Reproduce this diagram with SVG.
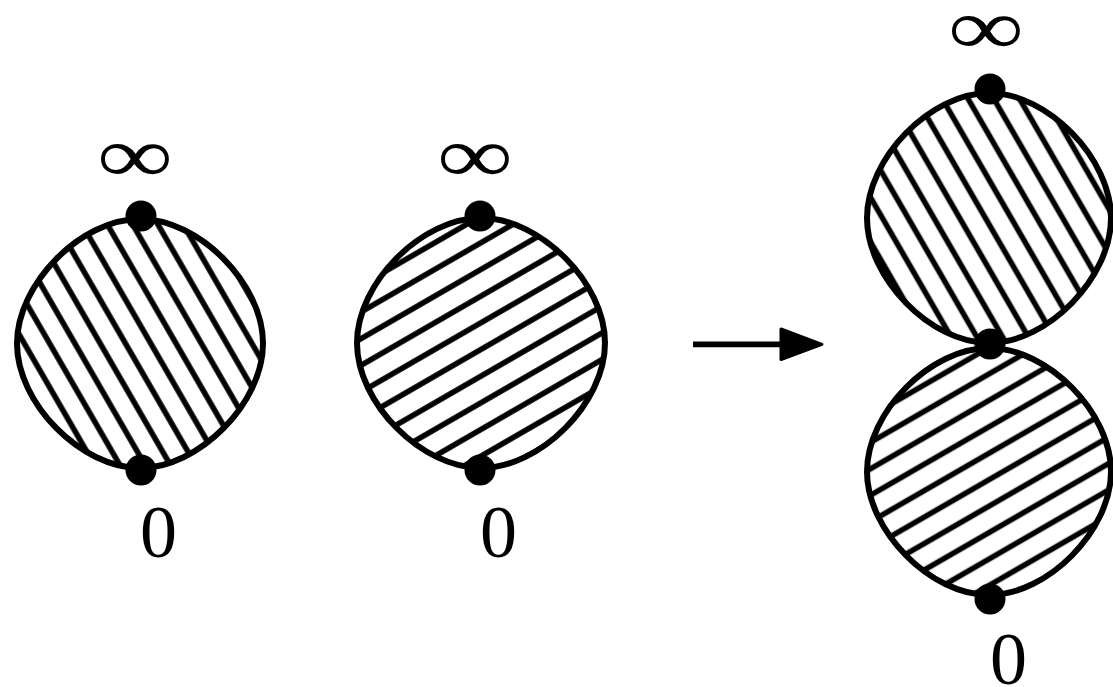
<svg xmlns="http://www.w3.org/2000/svg" width="1113" height="687" viewBox="0 0 1113 687">
  <style>
    .outline { fill: none; stroke: #000; stroke-width: 6; }
    .dot { fill: #000; }
    .lbl { font-family: "Liberation Serif", "DejaVu Serif", serif; fill: #000; text-anchor: middle; }
    .inf { font-size: 79px; }
    .zero { font-size: 74px; }
  </style>
  <defs>
    <path id="p-left" d="M140,219 C199,219 263,283.7 263,343.5 C263,403.3 199,468 140,468 C81,468 17,403.3 17,343.5 C17,283.7 81,219 140,219 Z"/>
    <path id="p-mid" d="M481,218 C540.5,218 605,283 605,343 C605,403 540.5,468 481,468 C421.5,468 357,403 357,343 C357,283 421.5,218 481,218 Z"/>
    <path id="p-rt" d="M989,93 C1047.6,93 1111,158 1111,218 C1111,278 1047.6,343 989,343 C930.4,343 867,278 867,218 C867,158 930.4,93 989,93 Z"/>
    <path id="p-rb" d="M989,348 C1047.6,348 1111,412.2 1111,471.5 C1111,530.8 1047.6,595 989,595 C930.4,595 867,530.8 867,471.5 C867,412.2 930.4,348 989,348 Z"/>
    <clipPath id="c-left"><use href="#p-left"/></clipPath>
    <clipPath id="c-mid"><use href="#p-mid"/></clipPath>
    <clipPath id="c-rt"><use href="#p-rt"/></clipPath>
    <clipPath id="c-rb"><use href="#p-rb"/></clipPath>
    <pattern id="h-left" patternUnits="userSpaceOnUse" width="21.9" height="20" patternTransform="translate(143,330) rotate(-30) translate(-10.95,0)">
      <rect x="8.2" y="0" width="5.5" height="20" fill="#000"/>
    </pattern>
    <pattern id="h-rt" patternUnits="userSpaceOnUse" width="22.3" height="20" patternTransform="translate(975,200) rotate(-30) translate(-11.15,0)">
      <rect x="8.4" y="0" width="5.5" height="20" fill="#000"/>
    </pattern>
    <pattern id="h-mid" patternUnits="userSpaceOnUse" width="23.1" height="20" patternTransform="translate(480,243.3) rotate(60) translate(-11.55,0)">
      <rect x="8.8" y="0" width="5.5" height="20" fill="#000"/>
    </pattern>
    <pattern id="h-rb" patternUnits="userSpaceOnUse" width="22.9" height="20" patternTransform="translate(990,452.7) rotate(60) translate(-11.45,0)">
      <rect x="8.7" y="0" width="5.5" height="20" fill="#000"/>
    </pattern>
  </defs>
  <rect width="1113" height="687" fill="#fff"/>

  <g id="blob-left">
    <rect x="0" y="200" width="290" height="290" fill="url(#h-left)" clip-path="url(#c-left)"/>
    <use href="#p-left" class="outline"/>
    <circle class="dot" cx="141" cy="216" r="15.5"/>
    <circle class="dot" cx="141" cy="470" r="15.5"/>
    <text class="lbl inf" x="135" y="182" textLength="76" lengthAdjust="spacingAndGlyphs">∞</text>
    <text class="lbl zero" x="158.5" y="557">0</text>
  </g>

  <g id="blob-middle">
    <rect x="340" y="200" width="290" height="290" fill="url(#h-mid)" clip-path="url(#c-mid)"/>
    <use href="#p-mid" class="outline"/>
    <circle class="dot" cx="480" cy="216" r="15.5"/>
    <circle class="dot" cx="480" cy="470" r="15.5"/>
    <text class="lbl inf" x="475" y="182" textLength="76" lengthAdjust="spacingAndGlyphs">∞</text>
    <text class="lbl zero" x="498.5" y="557">0</text>
  </g>

  <g id="blob-right-top">
    <rect x="850" y="80" width="263" height="280" fill="url(#h-rt)" clip-path="url(#c-rt)"/>
    <use href="#p-rt" class="outline"/>
    <circle class="dot" cx="990" cy="89" r="15.5"/>
    <text class="lbl inf" x="986" y="54" textLength="76" lengthAdjust="spacingAndGlyphs">∞</text>
  </g>

  <g id="blob-right-bottom">
    <rect x="850" y="335" width="263" height="280" fill="url(#h-rb)" clip-path="url(#c-rb)"/>
    <use href="#p-rb" class="outline"/>
    <circle class="dot" cx="990" cy="599" r="15.5"/>
    <text class="lbl zero" x="1008.5" y="684">0</text>
  </g>

  <g id="junction">
    <circle class="dot" cx="990" cy="344" r="15.5"/>
  </g>

  <g id="connectors">
    <line x1="693" y1="344.3" x2="785" y2="344.3" stroke="#000" stroke-width="5.7"/>
    <polygon points="781,329 822,344.3 781,359.5" fill="#000" stroke="#000" stroke-width="3" stroke-linejoin="round"/>
  </g>
</svg>
